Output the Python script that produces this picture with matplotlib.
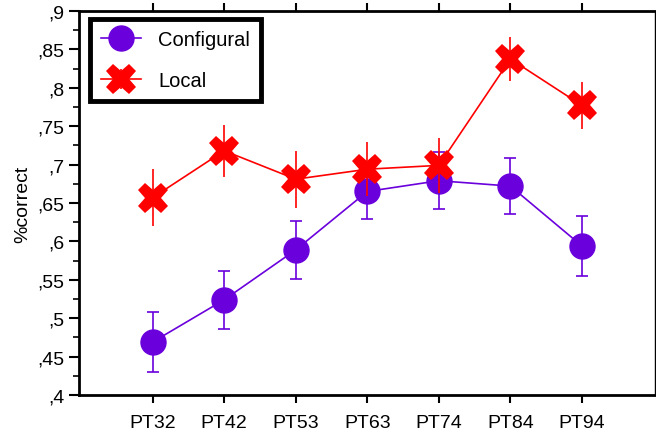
import numpy as np
import matplotlib
matplotlib.use('Agg')
import matplotlib.pyplot as plt
from matplotlib import ticker

plt.rcParams['font.family'] = ['Liberation Sans', 'DejaVu Sans']

labels = ['PT32', 'PT42', 'PT53', 'PT63', 'PT74', 'PT84', 'PT94']
configural = [0.469, 0.524, 0.589, 0.665, 0.679, 0.672, 0.594]
configural_err = [0.039, 0.038, 0.038, 0.036, 0.037, 0.036, 0.039]
local = [0.657, 0.718, 0.681, 0.694, 0.699, 0.8375, 0.777]
local_err = [0.037, 0.034, 0.037, 0.035, 0.036, 0.029, 0.031]

purple = '#6a00dc'
red = '#ff0000'

x = np.arange(1, len(labels) + 1)

fig = plt.figure(figsize=(6.56, 4.35), dpi=100)
ax = fig.add_axes([0.1204, 0.0897, 0.878, 0.8827])

ax.errorbar(x, configural, yerr=configural_err, color=purple, marker='o',
            markersize=18, linewidth=1.2, elinewidth=1.2, capsize=4,
            capthick=1.2, label='Configural', zorder=3)
ax.errorbar(x, local, yerr=local_err, color=red, marker='X',
            markersize=22, markeredgewidth=0, linewidth=1.2, elinewidth=1.2,
            capsize=4, capthick=1.2, label='Local', zorder=4)

ax.set_xlim(-0.03, 8.02)
ax.set_ylim(0.4, 0.9)
ax.set_xticks(x)
ax.set_xticklabels(labels, fontsize=14)
ax.yaxis.set_major_locator(ticker.MultipleLocator(0.05))
ax.yaxis.set_minor_locator(ticker.MultipleLocator(0.025))
ax.yaxis.set_major_formatter(ticker.FuncFormatter(
    lambda v, p: ('%g' % round(v, 3)).lstrip('0').replace('.', ',')))
ax.tick_params(axis='y', which='major', labelsize=14, length=7, width=1.5,
               direction='out')
ax.tick_params(axis='y', which='minor', length=4, width=1.2, direction='out')
ax.tick_params(axis='x', which='major', length=6, width=1.5, direction='out',
               top=True, pad=8)
ax.set_ylabel('%correct', fontsize=14, labelpad=4)

for side in ['left', 'bottom', 'top']:
    ax.spines[side].set_linewidth(2)
ax.spines['right'].set_linewidth(1)

leg = ax.legend(loc='upper left', fontsize=14.5, fancybox=False, framealpha=1,
                edgecolor='black', handlelength=2.0, handletextpad=0.85,
                borderpad=0.55, labelspacing=1.1, borderaxespad=0,
                bbox_to_anchor=(0.019, 0.979))
leg.get_frame().set_linewidth(3.5)

fig.savefig('out.png', dpi=100)
